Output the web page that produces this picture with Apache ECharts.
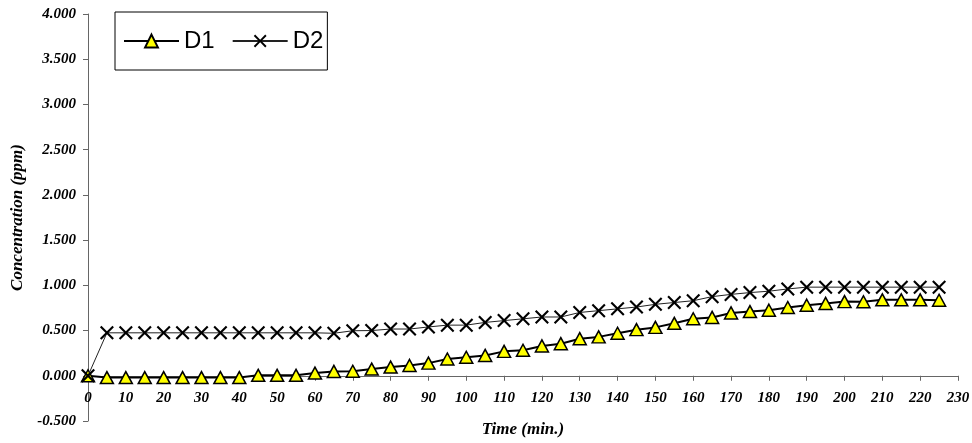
<!DOCTYPE html>
<html>
<head>
<meta charset="utf-8">
<script src="https://cdn.jsdelivr.net/npm/echarts@6/dist/echarts.min.js"></script>
<style>
  html, body { margin: 0; padding: 0; background: #fff; }
  #chart { width: 972px; height: 443px; }
</style>
</head>
<body>
<div id="chart"></div>
<script>
// Sampling times (minutes)
const times = [0, 5, 10, 15, 20, 25, 30, 35, 40, 45, 50, 55, 60, 65, 70, 75, 80, 85, 90, 95,
  100, 105, 110, 115, 120, 125, 130, 135, 140, 145, 150, 155, 160, 165, 170, 175, 180, 185,
  190, 195, 200, 205, 210, 215, 220, 225];

// Concentration (ppm) per sampling time
const d1 = [0.000, -0.020, -0.020, -0.020, -0.020, -0.020, -0.020, -0.020, -0.020, 0.005,
  0.005, 0.005, 0.030, 0.048, 0.050, 0.074, 0.096, 0.114, 0.140, 0.185,
  0.205, 0.225, 0.270, 0.282, 0.330, 0.355, 0.410, 0.430, 0.470, 0.510,
  0.535, 0.580, 0.630, 0.645, 0.695, 0.710, 0.725, 0.755, 0.780, 0.800,
  0.820, 0.818, 0.840, 0.840, 0.840, 0.835];
const d2 = [0.000, 0.475, 0.475, 0.475, 0.475, 0.475, 0.475, 0.475, 0.475, 0.475,
  0.475, 0.475, 0.475, 0.470, 0.498, 0.500, 0.517, 0.517, 0.540, 0.560,
  0.560, 0.590, 0.610, 0.630, 0.650, 0.650, 0.700, 0.720, 0.740, 0.760,
  0.790, 0.810, 0.830, 0.875, 0.900, 0.920, 0.935, 0.960, 0.980, 0.980,
  0.980, 0.980, 0.980, 0.980, 0.980, 0.980];

const seriesNames = ['D1', 'D2'];
const xTitle = 'Time (min.)';
const yTitle = 'Concentration (ppm)';

// Axis ranges
const yMin = -0.5, yMax = 4, yStep = 0.5;
const xMin = 0, xMax = 230, xStep = 10;

const pairs = (xs, ys) => xs.map((x, i) => [x, ys[i]]);

// Filled "x" glyph used as the D2 marker
const crossPath = 'path://M0,1.5L1.5,0L7,5.5L12.5,0L14,1.5L8.5,7L14,12.5L12.5,14L7,8.5L1.5,14L0,12.5L5.5,7Z';

const W = 972, H = 443;
const grid = { left: 88, right: 14, top: 14, bottom: 22 };
const plotHeight = H - grid.top - grid.bottom;
// The time axis crosses the value axis at zero concentration
const zeroLift = -(0 - yMin) / (yMax - yMin) * plotHeight;

const tickFont = {
  fontFamily: 'Liberation Serif',
  fontStyle: 'italic',
  fontWeight: 'bold',
  fontSize: 15,
  color: '#000'
};
const titleFont = Object.assign({}, tickFont, { fontSize: 17 });

const chart = echarts.init(document.getElementById('chart'), null, { renderer: 'canvas' });
chart.setOption({
  animation: false,
  backgroundColor: '#fff',
  grid: Object.assign({ containLabel: false, outerBoundsMode: 'none' }, grid),
  legend: {
    left: 115,
    top: 12,
    padding: [17, 4, 17, 8],
    itemGap: 17,
    itemWidth: 55,
    itemHeight: 16,
    borderColor: '#000',
    borderWidth: 1,
    data: seriesNames,
    textStyle: { fontFamily: 'Liberation Sans', fontSize: 24, color: '#000' }
  },
  xAxis: {
    type: 'value',
    min: xMin,
    max: xMax,
    interval: xStep,
    position: 'bottom',
    offset: zeroLift,
    name: xTitle,
    nameLocation: 'middle',
    nameGap: 45,
    nameTextStyle: titleFont,
    axisLine: { onZero: false, lineStyle: { color: '#666', width: 1 } },
    axisTick: { show: true, inside: false, length: 5, lineStyle: { color: '#666' } },
    axisLabel: Object.assign({ margin: 15 }, tickFont),
    splitLine: { show: false }
  },
  yAxis: {
    type: 'value',
    min: yMin,
    max: yMax,
    interval: yStep,
    name: yTitle,
    nameLocation: 'middle',
    nameGap: 60,
    nameTextStyle: titleFont,
    axisLine: { show: true, onZero: false, lineStyle: { color: '#666', width: 1 } },
    axisTick: { show: true, inside: false, length: 5, lineStyle: { color: '#666' } },
    axisLabel: Object.assign({ margin: 12, formatter: v => v.toFixed(3) }, tickFont),
    splitLine: { show: false }
  },
  series: [
    {
      name: seriesNames[0],
      type: 'line',
      data: pairs(times, d1),
      symbol: 'triangle',
      symbolSize: [13, 12],
      lineStyle: { color: '#000', width: 2 },
      itemStyle: { color: '#ffff00', borderColor: '#000', borderWidth: 1.5 },
      z: 2
    },
    {
      name: seriesNames[1],
      type: 'line',
      data: pairs(times, d2),
      symbol: crossPath,
      symbolSize: 14,
      lineStyle: { color: '#222', width: 1 },
      itemStyle: { color: '#000', borderWidth: 0 },
      z: 3
    }
  ]
});
</script>
</body>
</html>
